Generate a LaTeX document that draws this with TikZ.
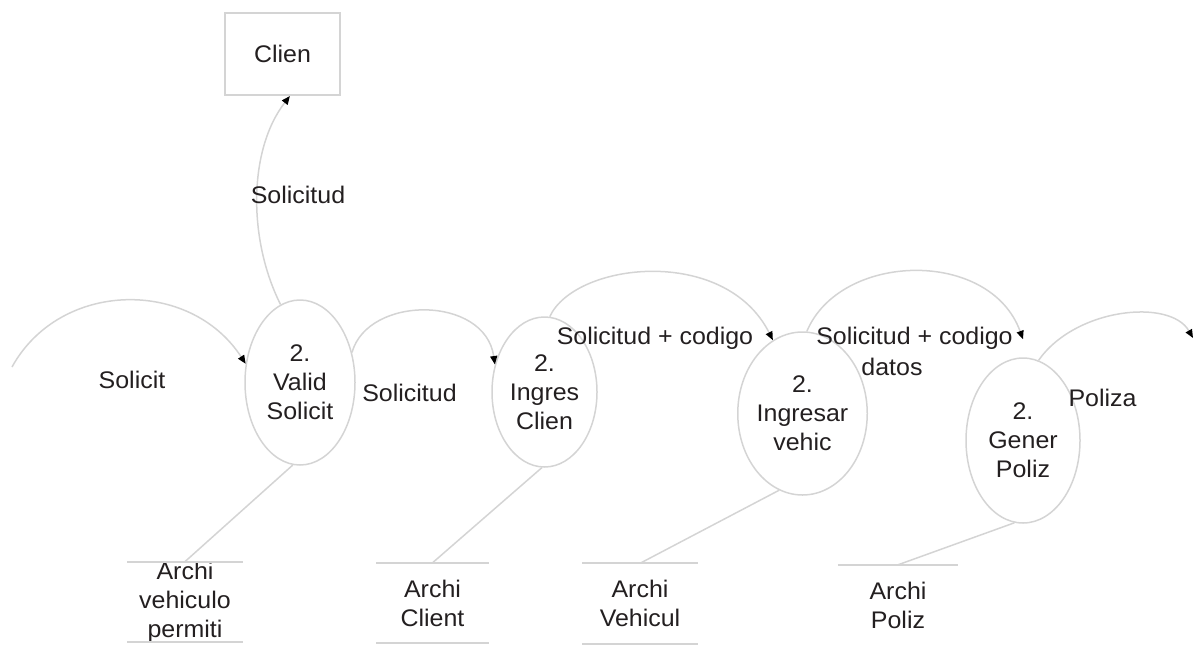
\documentclass[tikz,border=0pt]{standalone}
\usepackage{fontspec}
\setmainfont{Liberation Sans}[FakeStretch=1.04]
\usetikzlibrary{shapes.geometric,arrows.meta}
\definecolor{flowline}{RGB}{212,212,212}
\definecolor{ink}{RGB}{35,31,32}
\begin{document}
\begin{tikzpicture}[x=1pt,y=-1pt,
  every node/.style={text=ink,font=\fontsize{24}{29}\selectfont,align=center,inner sep=0pt},
  process/.style={ellipse,draw=flowline,line width=1.5pt},
  entity/.style={rectangle,draw=flowline,line width=2pt,minimum width=115pt,minimum height=82pt},
  store/.style={minimum height=80pt},
  storeline/.style={draw=flowline,line width=2pt},
  flow/.style={draw=flowline,line width=1.5pt,-{Triangle[length=8.5pt,width=7pt,color=black]}},
  link/.style={draw=flowline,line width=1.5pt}]
\useasboundingbox (0,0) rectangle (1198,645);

% external entity
\node[entity] (c) at (282.5,54) {Clien};

% processes
\node[process,minimum width=110pt,minimum height=165pt] (p1) at (300,382.5) {2.\\Valid\\Solicit};
\node[process,minimum width=105pt,minimum height=150pt] (p2) at (544.5,392) {2.\\Ingres\\Clien};
\node[process,minimum width=115pt,minimum height=163pt] (p3) at (802.5,413.5) {2.\\Ingresar\\vehic};
\node[process,minimum width=114pt,minimum height=165pt] (p4) at (1023,440.5) {2.\\Gener\\Poliz};

% data stores
\node[store,minimum width=115pt] (s1) at (185,602) {Archi\\vehiculo\\permiti};
\node[store,minimum width=112pt] (s2) at (432.5,603) {Archi\\Client};
\node[store,minimum width=115pt] (s3) at (640,603.5) {Archi\\Vehicul};
\node[store,minimum width=120pt] (s4) at (898,605) {Archi\\Poliz};
\draw[storeline] (s1.north west) -- (s1.north east) (s1.south west) -- (s1.south east);
\draw[storeline] (s2.north west) -- (s2.north east) (s2.south west) -- (s2.south east);
\draw[storeline] (s3.north west) -- (s3.north east) (s3.south west) -- (s3.south east);
\draw[storeline] (s4.north west) -- (s4.north east);

% free ends of the outer flows
\coordinate (src) at (12,367);
\coordinate (out) at (1193,338);

% data flows
\draw[flow] (src) .. controls (60,280) and (190,278) .. (p1.161);
\draw[flow] (p1.104) .. controls (248,240) and (248,150) .. (c.-80);
\draw[flow] (p1.30) .. controls (368,295) and (485,295) .. (p2.151);
\draw[flow] (p2.86) .. controls (575,262) and (725,245) .. (p3.112);
\draw[flow] (p3.87) .. controls (840,252) and (990,248) .. ([yshift=18pt]p4.north);
\draw[flow] (p4.79) .. controls (1075,308) and (1170,298) .. (out);

% store access
\draw[link] (p1.265) -- (s1.north);
\draw[link] (p2.268) -- (s2.north);
\draw[link] (p3.253) -- (s3.north);
\draw[link] (p4.264) -- (s4.north);

% flow labels
\node (l1) at (132,380) {Solicit};
\node (l2) at (298,195) {Solicitud};
\node (l3) at (409.5,393) {Solicitud};
\node (l4) at (655,338) {Solicitud + codigo};
\node (l5) at (914.5,338) {Solicitud + codigo};
\node (l6) at (892,367) {datos};
\node (l7) at (1102.5,398) {Poliza};
\end{tikzpicture}
\end{document}
